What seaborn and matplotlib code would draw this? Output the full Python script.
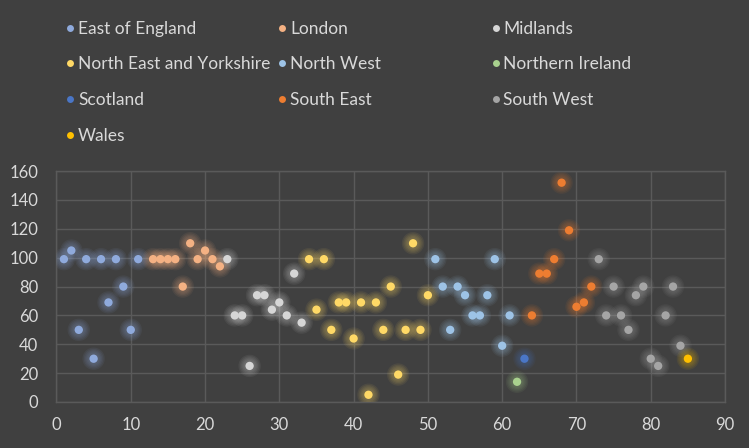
import pandas as pd
import matplotlib.pyplot as plt
import seaborn as sns
from matplotlib.lines import Line2D

# --- data ---
regions = ['East of England', 'London', 'Midlands', 'North East and Yorkshire',
           'North West', 'Northern Ireland', 'Scotland', 'South East',
           'South West', 'Wales']

east_x = [1, 2, 3, 4, 5, 6, 7, 8, 9, 10, 11]
east_y = [99, 105, 50, 99, 30, 99, 69, 99, 80, 50, 99]
london_x = [13, 14, 15, 16, 17, 18, 19, 20, 21, 22]
london_y = [99, 99, 99, 99, 80, 110, 99, 105, 99, 94]
midlands_x = [23, 24, 25, 26, 27, 28, 29, 30, 31, 32, 33]
midlands_y = [99, 60, 60, 25, 74, 74, 64, 69, 60, 89, 55]
ney_x = [34, 35, 36, 37, 38, 39, 40, 41, 42, 43, 44, 45, 46, 47, 48, 49, 50]
ney_y = [99, 64, 99, 50, 69, 69, 44, 69, 5, 69, 50, 80, 19, 50, 110, 50, 74]
nw_x = [51, 52, 53, 54, 55, 56, 57, 58, 59, 60, 61]
nw_y = [99, 80, 50, 80, 74, 60, 60, 74, 99, 39, 60]
ni_x = [62]
ni_y = [14]
scotland_x = [63]
scotland_y = [30]
se_x = [64, 65, 66, 67, 68, 69, 70, 71, 72]
se_y = [60, 89, 89, 99, 152, 119, 66, 69, 80]
sw_x = [73, 74, 75, 76, 77, 78, 79, 80, 81, 82, 83, 84]
sw_y = [99, 60, 80, 60, 50, 74, 80, 30, 25, 60, 80, 39]
wales_x = [85]
wales_y = [30]

colors = ['#8FAADC', '#F4B183', '#D6D6D6', '#FFD966', '#9DC3E6', '#A9D18E',
          '#4A76C6', '#ED7D31', '#A5A5A5', '#FFC000']

xs = [east_x, london_x, midlands_x, ney_x, nw_x, ni_x, scotland_x, se_x, sw_x, wales_x]
ys = [east_y, london_y, midlands_y, ney_y, nw_y, ni_y, scotland_y, se_y, sw_y, wales_y]

frames = []
for name, x, y in zip(regions, xs, ys):
    frames.append(pd.DataFrame({'x': x, 'y': y, 'region': name}))
df = pd.concat(frames, ignore_index=True)
palette = dict(zip(regions, colors))

BG = '#404040'
GRID = '#5A5A5A'
TXT = '#D9D9D9'

sns.set_theme(style='dark')
plt.rcParams['font.family'] = ['Lato', 'DejaVu Sans']

fig = plt.figure(figsize=(7.49, 4.48), dpi=100, facecolor=BG)
ax = fig.add_axes([0.0754, 0.1027, 0.968 - 0.0754, 0.618 - 0.1027])
ax.set_facecolor(BG)

# soft glow behind the markers: stacked faint discs
for k, size in enumerate([260, 200, 150, 110, 75]):
    sns.scatterplot(data=df, x='x', y='y', hue='region', palette=palette,
                    s=size, alpha=0.07, linewidth=0, legend=False, ax=ax,
                    zorder=2 + k)
sns.scatterplot(data=df, x='x', y='y', hue='region', palette=palette, s=36,
                linewidth=0, legend=False, ax=ax, zorder=10)

ax.set_xlim(0, 90)
ax.set_ylim(0, 160)
ax.set_xticks(range(0, 91, 10))
ax.set_yticks(range(0, 161, 20))
ax.set_xlabel('')
ax.set_ylabel('')
ax.grid(True, color=GRID, linewidth=1)
for s in ax.spines.values():
    s.set_color(GRID)
    s.set_linewidth(1)
ax.tick_params(axis='both', colors=TXT, labelsize=12, length=0)
ax.tick_params(axis='y', pad=13)
ax.tick_params(axis='x', pad=11)

# legend, laid out row by row like the original
handles = [Line2D([], [], marker='o', linestyle='', markersize=5,
                  markerfacecolor=c, markeredgewidth=0) for c in colors]
col_x = [0.088, 0.371, 0.656]
for ci in range(3):
    idx = list(range(ci, len(regions), 3))
    fig.legend([handles[i] for i in idx], [regions[i] for i in idx],
               loc='upper left', bbox_to_anchor=(col_x[ci], 0.954),
               frameon=False, fontsize=12.5, labelcolor=TXT,
               handlelength=0.5, handletextpad=0.2, labelspacing=1.14,
               borderpad=0, borderaxespad=0)

fig.savefig('out.png', dpi=100, facecolor=BG)
